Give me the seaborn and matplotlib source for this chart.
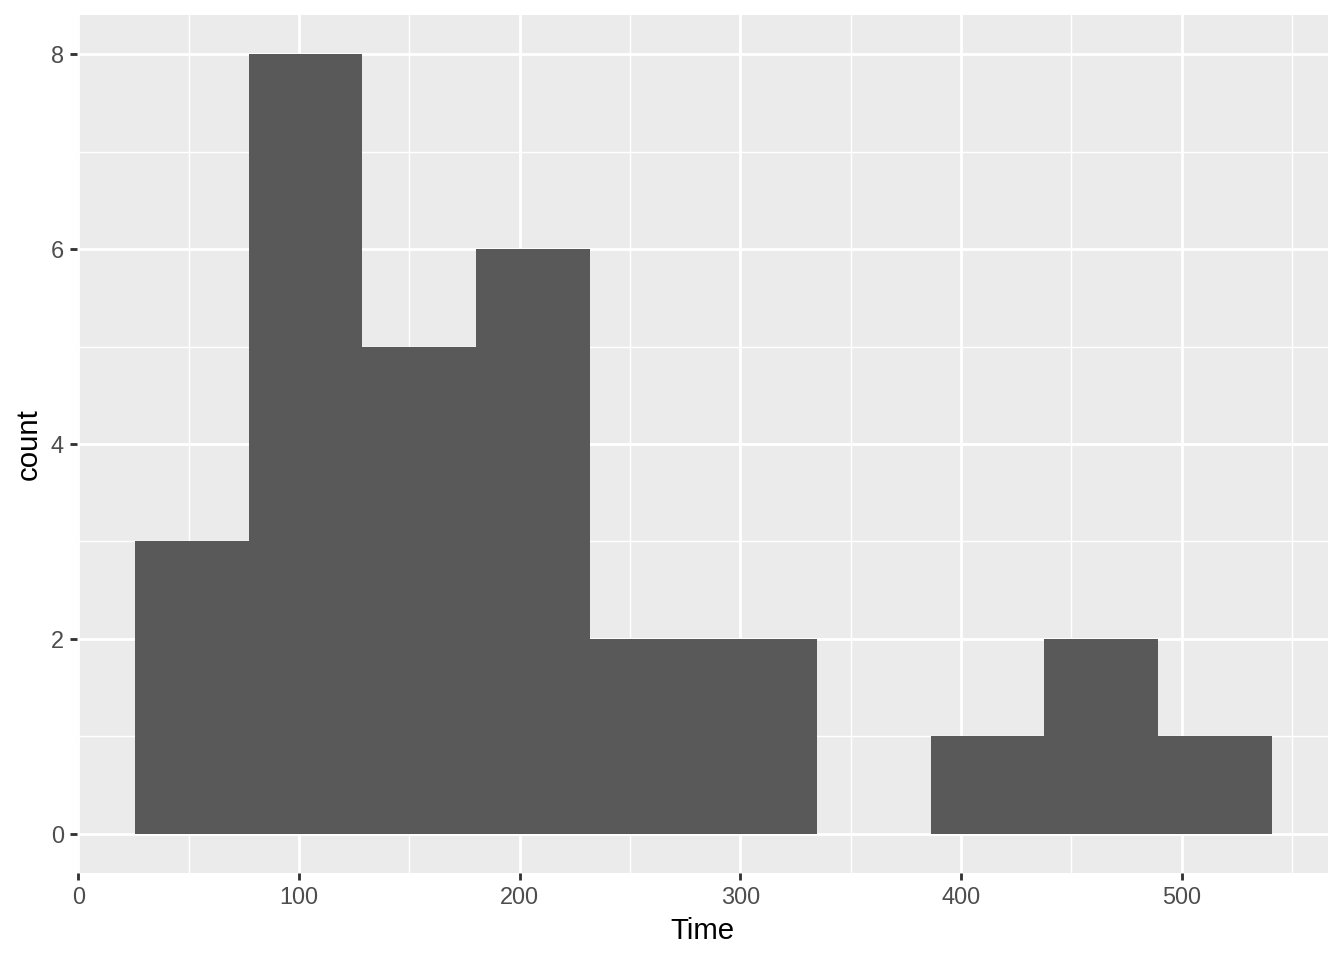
import numpy as np
import pandas as pd
import matplotlib
matplotlib.use("Agg")
import matplotlib.pyplot as plt
import seaborn as sns
from matplotlib.ticker import MultipleLocator

# bin edges and counts
bin_edges = [25.8, 77.3, 128.8, 180.3, 231.8, 283.3, 334.8, 386.3, 437.8, 489.3, 540.8]
counts = [3, 8, 5, 6, 2, 2, 0, 1, 2, 1]

centers = [(a + b) / 2 for a, b in zip(bin_edges[:-1], bin_edges[1:])]
df = pd.DataFrame({"Time": centers, "n": counts})

sns.set_theme(style="darkgrid")
plt.rcParams["font.family"] = ["Liberation Sans", "DejaVu Sans"]

fig = plt.figure(figsize=(7, 5), dpi=192)
ax = fig.add_axes([0.0575, 0.091, 0.9305, 0.893])
ax.set_facecolor("#EBEBEB")

sns.histplot(data=df, x="Time", weights="n", bins=bin_edges, ax=ax,
             color="#595959", alpha=1, edgecolor="none", linewidth=0)

ax.set_xlim(-0.4, 566.3)
ax.set_ylim(-0.4, 8.4)
ax.xaxis.set_major_locator(MultipleLocator(100))
ax.xaxis.set_minor_locator(MultipleLocator(50))
ax.yaxis.set_major_locator(MultipleLocator(2))
ax.yaxis.set_minor_locator(MultipleLocator(1))
ax.grid(which="major", color="white", linewidth=1.07)
ax.grid(which="minor", color="white", linewidth=0.53)
ax.set_axisbelow(True)
for s in ax.spines.values():
    s.set_visible(False)

ax.tick_params(which="major", length=2.75, width=1.07, color="#333333",
               labelsize=8.8, labelcolor="#4D4D4D", pad=2.2)
ax.tick_params(which="minor", length=0)
ax.tick_params(axis="x", bottom=True)
ax.tick_params(axis="y", left=True)

ax.set_xlabel("Time", fontsize=11, color="black", labelpad=3)
ax.set_ylabel("count", fontsize=11, color="black", labelpad=3)

fig.savefig("out.png", dpi=192)
